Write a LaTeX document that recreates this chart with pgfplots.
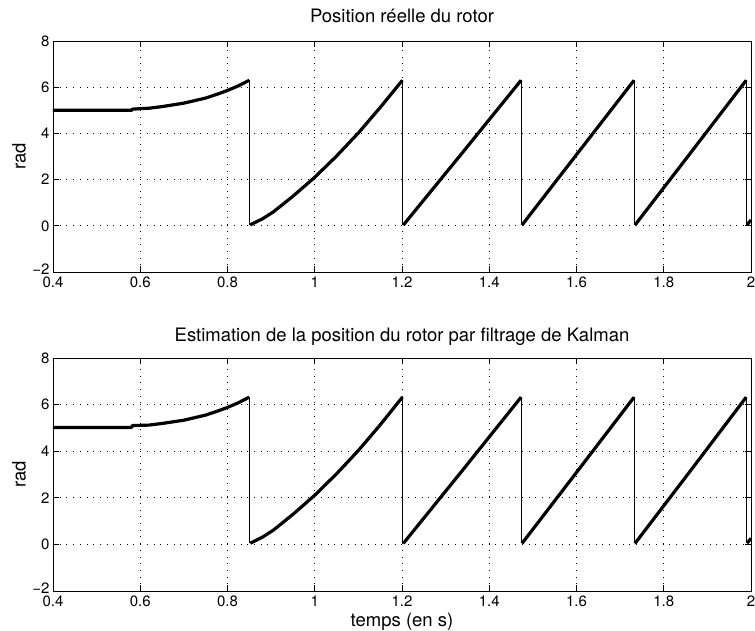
\documentclass[border=0pt]{standalone}
\usepackage{fontspec}
\setmainfont{TeX Gyre Heros}
\usepackage{pgfplots}
\pgfplotsset{compat=1.18}

\pgfplotsset{mystyle/.style={
  scale only axis, width=698pt, height=231pt,
  xmin=0.4, xmax=2, ymin=-2, ymax=8,
  xtick={0.4,0.6,0.8,1,1.2,1.4,1.6,1.8,2},
  xticklabels={0.4,0.6,0.8,1,1.2,1.4,1.6,1.8,2},
  ytick={-2,0,2,4,6,8},
  yticklabels={\raisebox{6pt}{−2},0,2,4,6,8},
  tick align=inside,
  major tick length=6pt,
  grid=major,
  major grid style={black, dash pattern=on 1pt off 5.7pt, line width=0.7pt},
  axis line style={line width=0.9pt},
  tick style={black, line width=0.9pt},
  ticklabel style={font=\fontsize{15}{18}\selectfont},
  xticklabel style={yshift=-1.5pt},
  label style={font=\fontsize{18.5}{22}\selectfont},
  title style={font=\fontsize{18.5}{22}\selectfont, at={(axis description cs:0.5,1)}, anchor=base},
  ylabel=rad,
  ylabel style={at={(axis description cs:0,0.5)}, anchor=center, rotate=0, yshift=34pt},
  unbounded coords=jump,
}}

\begin{document}
\begin{tikzpicture}
\useasboundingbox (-53pt,41pt) rectangle (702pt,-590pt);
% ---------------- top ----------------
\begin{axis}[mystyle, at={(0,0)}, anchor=north west,
  title={Position réelle du rotor}, title style={yshift=12.4pt}]
\addplot[black, line width=1pt] coordinates {
 (0.851,6.30) (0.851,0.04) (0.4,nan)
 (1.202,6.30) (1.202,0.03) (0.4,nan)
 (1.474,6.30) (1.474,0.03) (0.4,nan)
 (1.733,6.30) (1.733,0.03) (0.4,nan)
 (1.990,6.30) (1.990,0.05)
};
\addplot[black, line width=3.2pt, line join=round] coordinates {
 (0.400,5.00) (0.450,5.00) (0.500,5.00) (0.550,5.00) (0.580,5.00)
 (0.582,5.05) (0.600,5.07) (0.620,5.09) (0.650,5.16) (0.700,5.31)
 (0.750,5.53) (0.780,5.72) (0.800,5.86) (0.825,6.06) (0.850,6.30)
 (0.851,nan)
 (0.852,0.04) (0.880,0.30) (0.905,0.60) (0.950,1.28) (1.000,2.10)
 (1.050,3.02) (1.100,4.02) (1.150,5.12) (1.201,6.30)
 (1.202,nan)
 (1.203,0.03) (1.340,3.20) (1.473,6.30)
 (1.474,nan)
 (1.475,0.03) (1.600,3.08) (1.732,6.30)
 (1.733,nan)
 (1.734,0.03) (1.860,3.12) (1.989,6.30)
 (1.990,nan)
 (1.991,0.05) (2.000,0.25)
};
\end{axis}
% ---------------- bottom ----------------
\begin{axis}[mystyle, at={(0,-317pt)}, anchor=north west, height=233pt,
  title={Estimation de la position du rotor par filtrage de Kalman}, title style={yshift=10.6pt},
  xlabel={temps (en s)},
  xlabel style={at={(axis description cs:0.5,0)}, anchor=base, yshift=-35pt}]
\addplot[black, line width=1pt] coordinates {
 (0.851,6.32) (0.851,0.05) (0.4,nan)
 (1.202,6.32) (1.202,0.04) (0.4,nan)
 (1.474,6.32) (1.474,0.04) (0.4,nan)
 (1.733,6.32) (1.733,0.04) (0.4,nan)
 (1.990,6.32) (1.990,0.05)
};
\addplot[black, line width=3.2pt, line join=round] coordinates {
 (0.400,5.02) (0.450,5.02) (0.500,5.02) (0.550,5.02) (0.580,5.02)
 (0.582,5.10) (0.600,5.11) (0.620,5.12) (0.650,5.19) (0.700,5.33)
 (0.750,5.55) (0.780,5.74) (0.800,5.88) (0.825,6.08) (0.850,6.32)
 (0.851,nan)
 (0.852,0.05) (0.880,0.31) (0.905,0.61) (0.950,1.29) (1.000,2.11)
 (1.050,3.03) (1.100,4.03) (1.150,5.13) (1.201,6.32)
 (1.202,nan)
 (1.203,0.04) (1.340,3.21) (1.473,6.32)
 (1.474,nan)
 (1.475,0.04) (1.600,3.09) (1.732,6.32)
 (1.733,nan)
 (1.734,0.04) (1.860,3.13) (1.989,6.32)
 (1.990,nan)
 (1.991,0.05) (2.000,0.26)
};
\end{axis}
\end{tikzpicture}
\end{document}
